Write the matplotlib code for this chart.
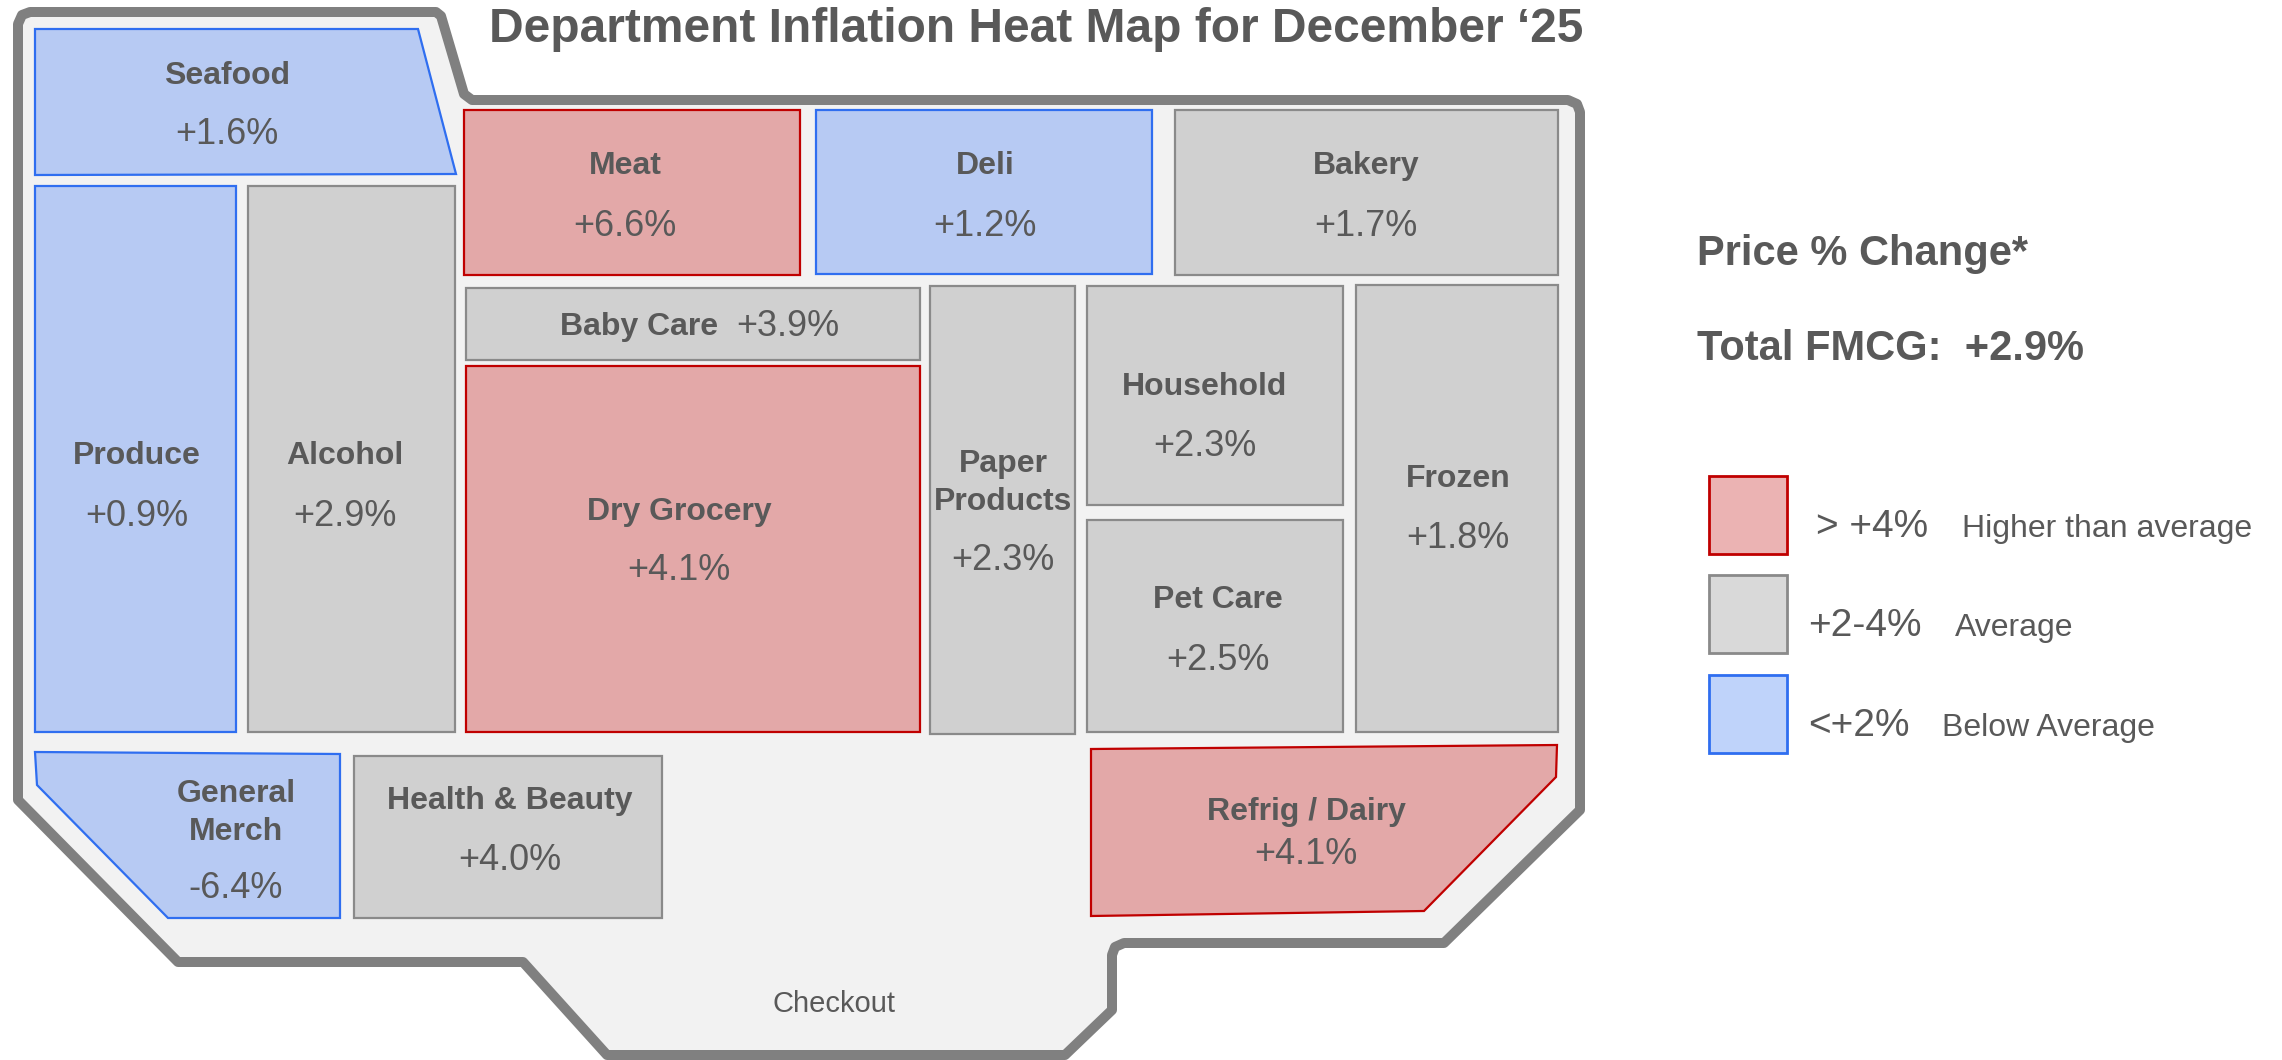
import matplotlib.pyplot as plt
from matplotlib.patches import Polygon

plt.rcParams['font.family'] = ['Liberation Sans', 'DejaVu Sans']

# department data
departments = ['Seafood', 'Produce', 'Alcohol', 'Meat', 'Deli', 'Bakery', 'Baby Care',
               'Dry Grocery', 'Paper Products', 'Household', 'Frozen', 'Pet Care',
               'Refrig / Dairy', 'General Merch', 'Health & Beauty']
price_change = [1.6, 0.9, 2.9, 6.6, 1.2, 1.7, 3.9, 4.1, 2.3, 2.3, 1.8, 2.5, 4.1, -6.4, 4.0]
band = ['low', 'low', 'avg', 'high', 'low', 'avg', 'avg', 'high', 'avg', 'avg', 'avg', 'avg',
        'high', 'low', 'avg']
total_fmcg = 2.9
legend_bands = ['high', 'avg', 'low']
legend_ranges = ['> +4%', '+2-4%', '<+2%']
legend_desc = ['Higher than average', 'Average', 'Below Average']

# floor plan geometry (pixel coords, y down)
shapes = {
    'Seafood': [(35, 29), (418, 29), (456, 174), (35, 175)],
    'Produce': [(35, 186), (236, 186), (236, 732), (35, 732)],
    'Alcohol': [(248, 186), (455, 186), (455, 732), (248, 732)],
    'Meat': [(464, 110), (800, 110), (800, 275), (464, 275)],
    'Deli': [(816, 110), (1152, 110), (1152, 274), (816, 274)],
    'Bakery': [(1175, 110), (1558, 110), (1558, 275), (1175, 275)],
    'Baby Care': [(466, 288), (920, 288), (920, 360), (466, 360)],
    'Dry Grocery': [(466, 366), (920, 366), (920, 732), (466, 732)],
    'Paper Products': [(930, 286), (1075, 286), (1075, 734), (930, 734)],
    'Household': [(1087, 286), (1343, 286), (1343, 505), (1087, 505)],
    'Frozen': [(1356, 285), (1558, 285), (1558, 732), (1356, 732)],
    'Pet Care': [(1087, 520), (1343, 520), (1343, 732), (1087, 732)],
    'Refrig / Dairy': [(1091, 749), (1557, 745), (1556, 777), (1424, 911), (1091, 916)],
    'General Merch': [(35, 752), (340, 754), (340, 918), (168, 918), (37, 785)],
    'Health & Beauty': [(354, 756), (662, 756), (662, 918), (354, 918)],
}
# label text, x, name y, value y
labels = {
    'Seafood': ('Seafood', 227, 76, 135),
    'Produce': ('Produce', 137, 456, 516),
    'Alcohol': ('Alcohol', 345, 456, 516),
    'Meat': ('Meat', 625, 166, 226),
    'Deli': ('Deli', 985, 166, 226),
    'Bakery': ('Bakery', 1366, 166, 226),
    'Dry Grocery': ('Dry Grocery', 679, 512, 570),
    'Paper Products': ('Paper\nProducts', 1003, 483, 561),
    'Household': ('Household', 1205, 387, 446),
    'Frozen': ('Frozen', 1458, 479, 539),
    'Pet Care': ('Pet Care', 1218, 600, 660),
    'Refrig / Dairy': ('Refrig / Dairy', 1306, 812, 855),
    'General Merch': ('General\nMerch', 236, 813, 888),
    'Health & Beauty': ('Health & Beauty', 510, 801, 860),
}
store_outline = [(18, 24), (22, 15), (30, 12), (436, 12), (441, 16), (464, 94), (472, 100),
                 (1568, 100), (1577, 104), (1580, 112), (1580, 810), (1444, 943),
                 (1124, 943), (1115, 947), (1112, 955), (1112, 1010), (1065, 1055),
                 (607, 1055), (523, 962), (178, 962), (18, 800)]

fills = {'high': '#e3a8a8', 'avg': '#d0d0d0', 'low': '#b7caf3'}
edges = {'high': '#c00000', 'avg': '#8a8a8a', 'low': '#2f6ef0'}
legend_fills = {'high': '#ebb3b3', 'avg': '#d9d9d9', 'low': '#bfd3fa'}
txt = '#595959'

fig = plt.figure(figsize=(22.82, 10.60), dpi=100)
ax = fig.add_axes([0, 0, 1, 1])
ax.set_xlim(0, 2282)
ax.set_ylim(1060, 0)
ax.axis('off')

ax.add_patch(Polygon(store_outline, closed=True, facecolor='#f2f2f2', edgecolor='#808080',
                     linewidth=7.2, joinstyle='round'))

for name, val, b in zip(departments, price_change, band):
    ax.add_patch(Polygon(shapes[name], closed=True, facecolor=fills[b], edgecolor=edges[b],
                         linewidth=1.6))
    value_str = f"{val:+.1f}%"
    if name == 'Baby Care':
        ax.text(639, 327, 'Baby Care', fontsize=23, fontweight='bold', color=txt,
                ha='center', va='center')
        ax.text(788, 327, value_str, fontsize=26, color=txt, ha='center', va='center')
        continue
    label, x, ny, vy = labels[name]
    ax.text(x, ny, label, fontsize=23, fontweight='bold', color=txt, ha='center',
            va='center', linespacing=1.35)
    ax.text(x, vy, value_str, fontsize=26, color=txt, ha='center', va='center')

ax.text(834, 1004, 'Checkout', fontsize=21, color=txt, ha='center', va='center')

ax.text(1036, 30, 'Department Inflation Heat Map for December \u201825', fontsize=34.5,
        fontweight='bold', color=txt, ha='center', va='center')

ax.text(1697, 254, 'Price % Change*', fontsize=30, fontweight='bold', color=txt,
        ha='left', va='center')
ax.text(1697, 349, f'Total FMCG:  {total_fmcg:+.1f}%', fontsize=30, fontweight='bold',
        color=txt, ha='left', va='center')

box_tops = [476, 575, 675]
range_x = [1816, 1808, 1808]
desc_x = [1962, 1955, 1942]
for i, b in enumerate(legend_bands):
    top = box_tops[i]
    ax.add_patch(Polygon([(1709, top), (1787, top), (1787, top + 78), (1709, top + 78)],
                         closed=True, facecolor=legend_fills[b], edgecolor=edges[b],
                         linewidth=2))
    cy = top + 51
    ax.text(range_x[i], cy, legend_ranges[i], fontsize=28, color=txt, ha='left', va='center')
    ax.text(desc_x[i], cy + 2, legend_desc[i], fontsize=23, color=txt, ha='left', va='center')

fig.savefig('out.png', dpi=100, facecolor='white')
